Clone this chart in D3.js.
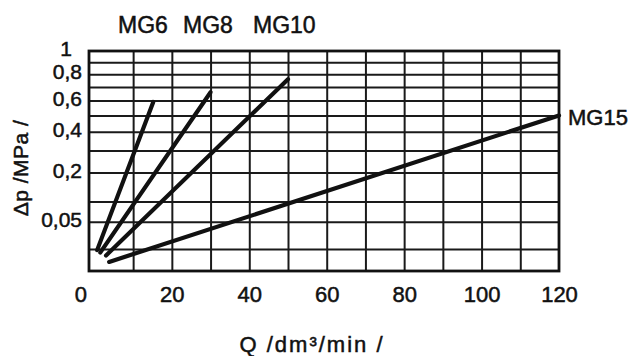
<!DOCTYPE html>
<html>
<head>
<meta charset="utf-8">
<script src="https://cdn.jsdelivr.net/npm/d3@7"></script>
<style>
  body { margin: 0; background: #fff; }
  svg { display: block; font-family: "Liberation Sans", Arial, sans-serif; }
  .grid line { stroke: #1a1a1a; stroke-width: 2; }
  .grid path { display: none; }
  .ticks path { display: none; }
  .ticks text { fill: #111; stroke: #111; stroke-width: 0.5; }
  .lbl { fill: #111; stroke: #111; stroke-width: 0.5; }
</style>
</head>
<body>
<div id="chart"></div>
<script>
// series: pressure drop dp (MPa) vs flow Q (dm3/min), straight on a sqrt axis
const seriesNames = ["MG6", "MG8", "MG10", "MG15"];
const flowStart = [0.7, 1.5, 3, 3.8];
const flowEnd = [15.2, 30, 50, 120];
const dpStart = [0.009, 0.007, 0.005, 0.0017];
const dpEnd = [0.59, 0.66, 0.76, 0.5];

const xTicks = [0, 20, 40, 60, 80, 100, 120];
const xGridValues = [10, 20, 30, 40, 50, 60, 70, 80, 90, 100, 110];
const yTicks = [1, 0.8, 0.6, 0.4, 0.2, 0.05];
const yTickLabels = ["1", "0,8", "0,6", "0,4", "0,2", "0,05"];
const yGridValues = [0.01, 0.05, 0.1, 0.2, 0.3, 0.4, 0.5, 0.6, 0.7, 0.8, 0.9];

const W = 633, H = 356;
const plotL = 89, plotR = 559, plotT = 51, plotB = 271;

const svg = d3.select("#chart").append("svg")
  .attr("width", W).attr("height", H);

const x = d3.scaleLinear().domain([-1.4, 120]).range([plotL, plotR]);
const y = d3.scalePow().exponent(0.5).domain([0, 1]).range([plotB, plotT]);

// grid
svg.append("g").attr("class", "grid")
  .attr("transform", "translate(0," + plotB + ")")
  .call(d3.axisBottom(x).tickValues(xGridValues).tickSize(-(plotB - plotT)).tickFormat(""));
svg.append("g").attr("class", "grid")
  .attr("transform", "translate(" + plotL + ",0)")
  .call(d3.axisLeft(y).tickValues(yGridValues).tickSize(-(plotR - plotL)).tickFormat(""));

// frame
svg.append("rect")
  .attr("x", plotL).attr("y", plotT)
  .attr("width", plotR - plotL).attr("height", plotB - plotT)
  .attr("fill", "none").attr("stroke", "#111").attr("stroke-width", 2.8);

// x tick labels
const xAxis = svg.append("g").attr("class", "ticks")
  .attr("transform", "translate(0," + plotB + ")")
  .call(d3.axisBottom(x).tickValues(xTicks).tickSize(0).tickPadding(15));
xAxis.selectAll("text")
  .attr("font-size", 22)
  .attr("font-family", "Liberation Sans, Arial, sans-serif")
  .attr("dx", d => d === 0 ? -14 : 0);

// y tick labels
const yAxis = svg.append("g").attr("class", "ticks")
  .attr("transform", "translate(" + (plotL - 7) + ",0)")
  .call(d3.axisLeft(y).tickValues(yTicks).tickSize(0).tickPadding(0)
    .tickFormat((d, i) => yTickLabels[i]));
yAxis.selectAll("text")
  .attr("font-size", 21)
  .attr("font-family", "Liberation Sans, Arial, sans-serif")
  .attr("dy", "0.22em")
  .attr("text-anchor", (d, i) => i === 0 ? "middle" : "end")
  .attr("dx", (d, i) => i === 0 ? -16 : 0);

// series lines
const line = d3.line().x(d => x(d[0])).y(d => y(d[1]));
seriesNames.forEach((name, i) => {
  svg.append("path")
    .datum([[flowStart[i], dpStart[i]], [flowEnd[i], dpEnd[i]]])
    .attr("d", line)
    .attr("fill", "none")
    .attr("stroke", "#111")
    .attr("stroke-width", 4.2)
    .attr("stroke-linecap", "round");
});

// series labels
const labelLayout = {
  MG6: { x: 118, y: 33, size: 23 },
  MG8: { x: 183, y: 33, size: 23 },
  MG10: { x: 253, y: 33, size: 23 },
  MG15: { x: 568, y: 125, size: 22 }
};
seriesNames.forEach(name => {
  const p = labelLayout[name];
  svg.append("text")
    .attr("class", "lbl")
    .attr("x", p.x).attr("y", p.y)
    .attr("font-size", p.size)
    .text(name);
});

// axis titles
svg.append("text")
  .attr("class", "lbl")
  .attr("transform", "translate(28,168) rotate(-90)")
  .attr("text-anchor", "middle")
  .attr("font-size", 21)
  .attr("letter-spacing", 0.5)
  .text("\u0394p /MPa /");

svg.append("text")
  .attr("class", "lbl")
  .attr("x", 312).attr("y", 352)
  .attr("text-anchor", "middle")
  .attr("font-size", 22)
  .attr("letter-spacing", 2)
  .text("Q /dm\u00b3/min /");
</script>
</body>
</html>
